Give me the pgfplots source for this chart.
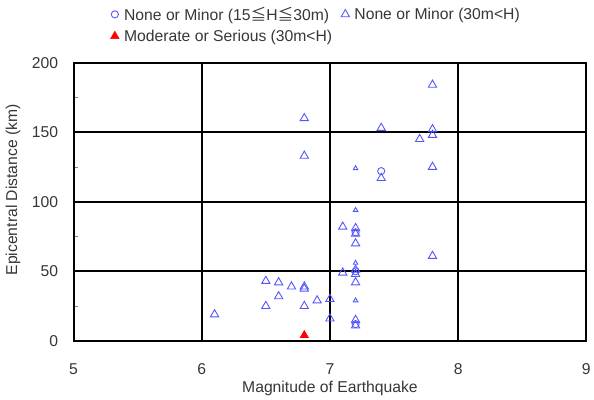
\documentclass[border=0pt]{standalone}
\usepackage{pgfplots}
\pgfplotsset{compat=1.18}
\usepackage{fontspec}
\setmainfont{Liberation Sans}
\newfontfamily\cjk{Noto Sans CJK JP}
\newcommand\chartfont{\fontsize{15.8}{18}\selectfont}
\definecolor{mkblue}{RGB}{85,85,255}
\definecolor{txt}{RGB}{55,55,55}
\begin{document}
\begin{tikzpicture}[font=\chartfont]
\begin{axis}[
  scale only axis, width=516pt, height=280pt,
  xmin=5, xmax=9, ymin=0, ymax=200,
  xtick={5,6,7,8,9}, ytick={0,50,100,150,200},
  minor y tick num=1,
  /pgf/number format/assume math mode=true,
  grid=major, major grid style={black, line width=2pt},
  axis line style={black, line width=2pt},
  major tick length=0pt, minor tick length=4pt,
  tick align=inside, ytick pos=left, xtick pos=bottom,
  minor tick style={gray, line width=0.6pt},
  tick label style={text=txt, font=\chartfont},
  xticklabel style={yshift=-19pt},
  yticklabel style={xshift=-12pt},
  xlabel={Magnitude of Earthquake},
  ylabel={Epicentral Distance (km)},
  label style={text=txt, font=\chartfont},
  xlabel style={at={(axis description cs:0.5,0)}, anchor=center, yshift=-48pt},
  ylabel style={at={(axis description cs:-0.118,0.543)}, anchor=center},
  legend columns=2,
  legend style={draw=none, fill=none, at={(axis description cs:0.066,1.215)}, anchor=north west,
    font=\chartfont, text=txt, row sep=4pt,
    /tikz/every odd column/.append style={column sep=3pt},
    /tikz/every even column/.append style={column sep=7pt}},
  legend cell align=left,
  clip=false,
]
\addplot[only marks, mark=o, mark size=3.6pt, mkblue, line width=0.9pt] coordinates {
(7.4,122) (7.2,78) (7.2,50) (7.2,12)
};
\addlegendentry{None or Minor (15{\cjk ≦}H{\cjk ≦}30m)}
\addplot[only marks, mark=triangle, mark size=4.8pt, mkblue, line width=0.9pt] coordinates {
(6.1,19) (6.5,43) (6.5,25) (6.6,42) (6.6,32) (6.7,39) (6.8,39) (6.8,37.5)
(6.8,25) (6.8,160) (6.8,133) (6.9,29) (7.0,30) (7.0,16) (7.1,82) (7.1,49)
(7.2,81) (7.2,77) (7.2,70) (7.2,51) (7.2,48) (7.2,42) (7.2,15) (7.2,11)
(7.4,153) (7.4,117) (7.7,145) (7.8,184) (7.8,152) (7.8,148) (7.8,125) (7.8,61)
};
\addlegendentry{None or Minor (30m<H)}
\addplot[only marks, mark=triangle*, mark size=5pt, red, fill=red] coordinates {
(6.8,4)
};
\addlegendentry{Moderate or Serious (30m<H)}
\addplot[forget plot, only marks, mark=triangle, mark size=2.6pt, mkblue, line width=0.9pt] coordinates {
(7.2,124) (7.2,94) (7.2,56) (7.2,29)
};
\end{axis}
\path (current axis.south west) ++(-74pt,-56pt) rectangle ++(594pt,399pt);
\end{tikzpicture}
\end{document}
